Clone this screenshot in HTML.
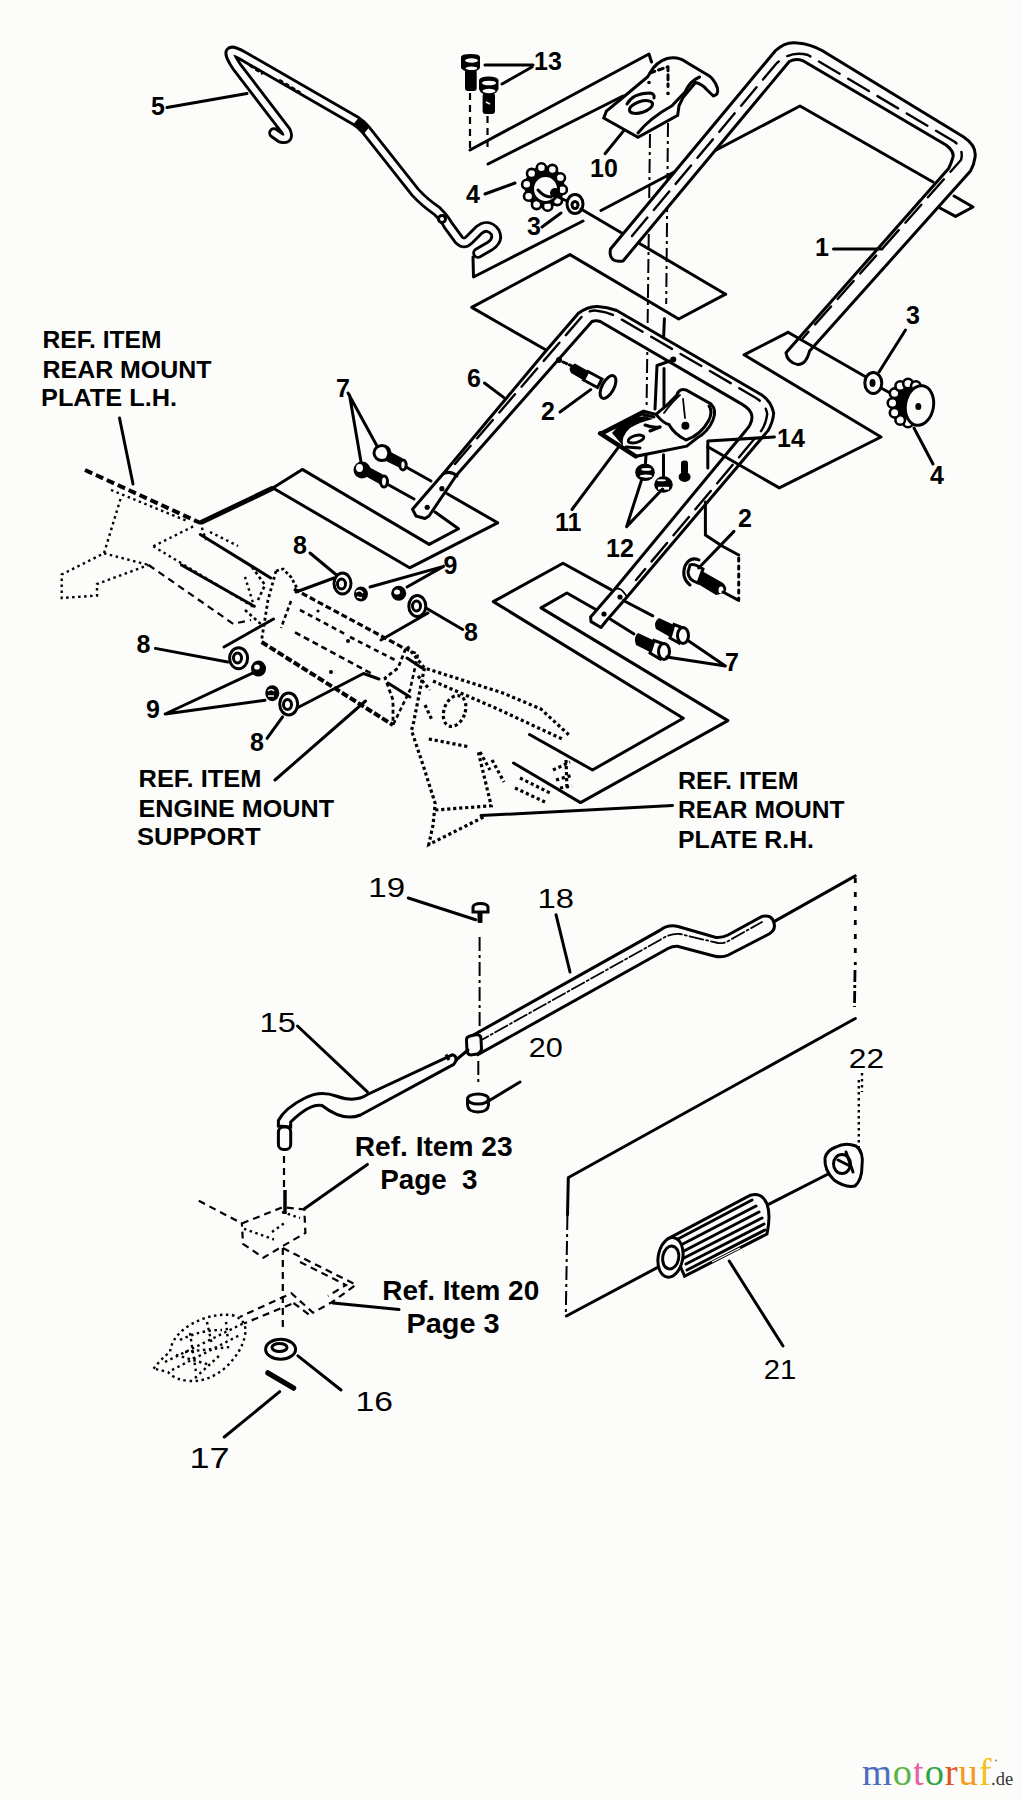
<!DOCTYPE html>
<html><head><meta charset="utf-8"><title>Parts diagram</title>
<style>
html,body{margin:0;padding:0;background:#fcfdfb;}
body{width:1022px;height:1800px;overflow:hidden;}
svg{display:block;}
.l{fill:none;stroke:#000;stroke-width:3;stroke-linecap:round;stroke-linejoin:round;}
.t{fill:none;stroke:#000;stroke-width:1.8;stroke-linecap:round;stroke-linejoin:round;}
.d{fill:none;stroke:#000;stroke-width:2.2;stroke-dasharray:7 5;stroke-linecap:butt;}
.dd{fill:none;stroke:#000;stroke-width:2.4;stroke-dasharray:2.5 3.5;stroke-linecap:butt;}
.dc{fill:none;stroke:#000;stroke-width:2;stroke-dasharray:14 4 3 4;}
.hl{fill:none;stroke:#000;stroke-width:2.4;stroke-dasharray:24 10;stroke-linecap:round;}
.w{fill:#fcfdfb;stroke:#000;stroke-width:3;}
.b{fill:#000;}
.lb{font-family:"Liberation Sans",sans-serif;font-weight:bold;font-size:25px;fill:#000;}
.lr{font-family:"Liberation Sans",sans-serif;font-weight:normal;font-size:27px;fill:#000;}
.tx{font-family:"Liberation Sans",sans-serif;font-weight:bold;font-size:24px;fill:#000;}
</style></head>
<body>
<svg width="1022" height="1800" viewBox="0 0 1022 1800">
<rect width="1022" height="1800" fill="#fcfdfb"/>
<!-- ===== item 5 rod ===== -->
<path d="M 274,133 L 281,138 Q 290,140 286,131 L 237,67 Q 220,42 245,57 L 356,121 Q 362,125 366,130 L 415,192 Q 424,202 437,211 Q 445,219 448,225 L 459,240 Q 464,245 469,240 L 479,230 Q 488,223 495,232 Q 499,240 490,246 L 478,253" fill="none" stroke="#000" stroke-width="11.5" stroke-linejoin="round" stroke-linecap="round"/>
<path d="M 274,133 L 281,138 Q 290,140 286,131 L 237,67 Q 220,42 245,57 L 356,121 Q 362,125 366,130 L 415,192 Q 424,202 437,211 Q 445,219 448,225 L 459,240 Q 464,245 469,240 L 479,230 Q 488,223 495,232 Q 499,240 490,246 L 478,253" fill="none" stroke="#fcfdfb" stroke-width="5.8" stroke-linejoin="round" stroke-linecap="round"/>
<path d="M 356,121 L 367,130" stroke="#000" stroke-width="9" />
<circle cx="442" cy="219" r="3.5" class="w"/>
<path d="M 250,66 L 262,74 M 280,80 L 300,92" class="t" stroke-dasharray="3 4"/>
<text class="lb" x="151" y="115">5</text>
<path d="M 167,107.5 L 247,93.5" class="l"/>
<!-- ===== bolts 13 ===== -->
<g>
<rect x="465" y="69" width="11.7" height="22" rx="3" class="b"/>
<path d="M 461,57 Q 461,54 470.5,54 Q 480,54 480,57 L 480,68 Q 478,71.5 470.5,71.5 Q 463,71.5 461,68 Z" class="b"/>
<ellipse cx="471.5" cy="60.5" rx="6.5" ry="2.2" fill="#fcfdfb"/>
<ellipse cx="471.5" cy="68.3" rx="5.8" ry="1.8" fill="#fcfdfb"/>
<rect x="482.6" y="93" width="12.4" height="21" rx="3" class="b"/>
<path d="M 479,80 Q 480,76.5 488.5,76.5 Q 497.5,76.5 498.5,80 L 498.5,89 Q 496,95 488.5,95 Q 481,95 479,89 Z" class="b"/>
<ellipse cx="489" cy="83" rx="7" ry="2.3" fill="#fcfdfb"/>
<ellipse cx="489" cy="91" rx="6.5" ry="2.2" fill="#fcfdfb"/>
<path d="M 486,102 L 490,104" stroke="#fcfdfb" stroke-width="1.5"/>
</g>
<text class="lb" x="534" y="70">13</text>
<path d="M 485,65 L 533,65 M 502,84 L 532,67" class="l"/>
<path d="M 470,93 L 470,150 M 487.5,116 L 487.5,151" class="d"/>
<!-- plate lines top -->
<path d="M 470,150 L 649,54 L 651.5,62" class="l"/>
<path d="M 488,164 L 623,96" class="l"/>
<!-- ===== bracket 10 ===== -->
<path d="M 603.7,118 L 638,137.3 L 677.7,115.3 L 679,105.8 L 683,97.5 L 695.5,82.5 Q 702,84 706.4,89.3 L 713.3,96 Q 719,95 717.4,88 Q 714,78 706.4,74.2 L 686,62 Q 678,56 667,58.5 Q 656,62 650,73 L 647.5,77 L 622.9,97.5 L 606.4,111.2 Z" class="w"/>
<path d="M 638,133 Q 650,118 672,105.8 L 685,92 Q 690,81 699.6,77" class="l"/>
<path d="M 650,73 L 668,66.7 L 668,86.6" class="l" stroke-dasharray="5 4"/>
<circle cx="649" cy="82.5" r="1.8" class="b"/>
<circle cx="668" cy="93.4" r="1.8" class="b"/>
<ellipse cx="641" cy="107" rx="12" ry="5.5" transform="rotate(-18 641 107)" class="l"/>
<path d="M 627,104 Q 633,93 650,93 Q 655,94 654,98" class="l"/>
<text class="lb" x="590" y="177">10</text>
<path d="M 605,153.7 L 624,130.4" class="l"/>
<!-- vertical axis lines -->
<path d="M 650,134 L 646.6,406" class="dc"/>
<path d="M 646,455 L 645.5,463" class="l" stroke-width="2.4"/>
<path d="M 668,123 L 666.2,304" class="dc"/>
<path d="M 664.4,318.7 L 663.5,340 M 664,368.4 L 664,406" class="l" stroke-width="2.6"/>
<!-- ===== knob 4 + washer 3 (top) ===== -->
<g>
<ellipse cx="544.5" cy="187" rx="20" ry="21.5" class="b"/>
<g fill="#fcfdfb" stroke="#000" stroke-width="2.6"><ellipse cx="541.4" cy="167.8" rx="4.6" ry="4.6"/><ellipse cx="552.4" cy="169.5" rx="4.6" ry="4.6"/><ellipse cx="560.4" cy="177.8" rx="4.6" ry="4.6"/><ellipse cx="562.3" cy="189.7" rx="4.6" ry="4.6"/><ellipse cx="557.4" cy="200.5" rx="4.6" ry="4.6"/><ellipse cx="547.6" cy="206.2" rx="4.6" ry="4.6"/><ellipse cx="536.6" cy="204.5" rx="4.6" ry="4.6"/><ellipse cx="528.6" cy="196.2" rx="4.6" ry="4.6"/><ellipse cx="526.7" cy="184.3" rx="4.6" ry="4.6"/><ellipse cx="531.6" cy="173.5" rx="4.6" ry="4.6"/></g>
<ellipse cx="545.5" cy="189" rx="13" ry="13.5" class="w" stroke-width="2.6"/>
<circle cx="555" cy="193" r="5" class="b"/>
<path d="M 538,190 Q 544,197 551,197" class="l" stroke-width="3"/>
</g>
<ellipse cx="575" cy="204" rx="8" ry="9.5" class="w" stroke-width="3.5"/>
<ellipse cx="575" cy="205" rx="3" ry="3.5" class="l"/>
<path d="M 558,197 L 567,201" class="l"/>
<path d="M 581,209 L 725.6,294.2" class="l"/>
<text class="lb" x="466" y="203">4</text>
<path d="M 485,194 L 515,183" class="l"/>
<text class="lb" x="527" y="235">3</text>
<path d="M 542,227 L 561,213" class="l"/>
<!-- plate line from handle-1 region -->
<path d="M 601,210.5 L 800,106 L 933,182" class="l"/>
<path d="M 954,196 L 973,207 L 955.5,216.4 L 940,208" class="l"/>
<!-- lower plate lines under item 5 -->
<path d="M 473,257 L 473.5,277 L 583,221" class="l"/>
<path d="M 725.6,294.2 L 678.7,319 L 570,254.6 L 471.7,307.4 L 546,350" class="l"/>
<!-- ===== handle 1 ===== -->
<path d="M 623,261 Q 608,263 610.5,249 L 775.6,50.5 Q 786,41 797.5,43 Q 810,44 822,50.5 L 963.7,137 Q 977,146 975,157.5 Q 974,165 970.5,171 L 809.6,351 Q 806,365 797.8,364.6 Q 787,362 786,352.8 L 948.6,168.5 Q 951,164 952.7,158 Q 955,152 946,145 L 803,60.8 Q 796,58 789.3,61.5 L 623,261 Z" class="w" stroke-linejoin="round"/>
<path d="M 632,236 L 776,64 Q 790,50 808,55 L 955,142 Q 964,150 961,160 L 803,338" class="hl"/>
<!-- ===== handle 6 ===== -->
<path d="M 429,516 L 425,518.5 L 416,516 L 412.5,509.3 L 443,474 L 545,352 L 578.4,313.3 Q 588,306 597.5,306.4 Q 607,307 616.7,310.5 L 761.4,394.8 Q 771,401 773.7,413 Q 773,422 768.2,430.4 L 627,597 L 607,620 L 601,627.5 L 591,621.6 L 590.6,617 L 614,590 L 745.2,431.3 Q 752,424 752,417 Q 752,410 742.2,404.4 L 600.3,321.5 Q 596,320 592,321.5 L 456.6,475 L 429,516 Z" class="w" stroke-linejoin="round"/>
<path d="M 455,464 L 582.5,315.8 Q 590,309 598.3,311 Q 608,312 617.7,317.2 L 755.6,397.7 Q 766,404 767.2,414.2 Q 766,424 761.3,430.7 L 636,580" class="hl"/>
<path d="M 443,474 Q 450,470 457,476" class="l"/>
<circle cx="427.2" cy="507.3" r="2.6" class="b"/><circle cx="441.9" cy="488.7" r="2.6" class="b"/>
<path d="M 614,590 Q 620,585 627,597" class="t"/>
<!-- ===== LH label ===== -->
<text class="tx" x="42.5" y="348" textLength="119" lengthAdjust="spacingAndGlyphs">REF. ITEM</text>
<text class="tx" x="42.5" y="378" textLength="169" lengthAdjust="spacingAndGlyphs">REAR MOUNT</text>
<text class="tx" x="41" y="406" textLength="136" lengthAdjust="spacingAndGlyphs">PLATE L.H.</text>
<path d="M 119.5,418 L 133,484" class="l"/>
<!-- LH dashed mount plate -->
<g>
<path d="M 85,470 L 200,522.8" fill="none" stroke="#000" stroke-width="4" stroke-dasharray="8 4"/>
<path d="M 111,490 L 186,520.5" class="dd"/>
<path d="M 120.5,499 L 104,553.3 L 61.7,574.5 L 61.7,598 L 97,595.6 L 97,584 L 148.6,565" class="dd"/>
<path d="M 104,553.3 L 148.6,565" class="dd"/>
<path d="M 153.3,546.3 L 195.6,525.2 M 153.3,546.3 L 254.3,607.4" class="dd"/>
<path d="M 148.6,565 L 233.2,623.8 L 251,620" class="d"/>
<path d="M 245,576.8 L 254.3,607" class="dd"/>
<path d="M 200,522 L 206,540 M 210,532 L 238,546" class="dd"/>
</g>
<!-- LH solid plate -->
<path d="M 202,522 L 272,488.5" stroke="#000" stroke-width="5" stroke-linecap="round"/>
<path d="M 272,488.5 L 302.3,469.4 L 429.2,544.4 L 458.5,528.7 L 435,512" class="l"/>
<path d="M 273,488 L 409.6,567.8 L 497.6,522.8 L 446.8,493.5" class="l"/>
<path d="M 200.3,534.5 L 270.8,578" class="l"/>
<path d="M 181.5,565 L 254.3,606.2" class="l"/>
<!-- bolts 7 left -->
<g>
<path d="M 385,449 L 402,458 Q 407,462 404,470 L 386,461 Z" class="b"/>
<ellipse cx="403" cy="465" rx="3.2" ry="5" class="w" stroke-width="2.5"/>
<ellipse cx="382" cy="453" rx="8" ry="7.5" class="w" stroke-width="3.5"/>
<path d="M 386,447 Q 391,452 387,459" class="l" stroke-width="3"/>
<path d="M 406,467 L 431,481" class="l"/>
<path d="M 365,465 L 382,474 Q 388,478 385,487 L 367,477 Z" class="b"/>
<ellipse cx="384" cy="481.5" rx="3.5" ry="5.5" class="w" stroke-width="2.5"/>
<ellipse cx="362" cy="470" rx="8.5" ry="8.5" class="b"/>
<ellipse cx="359.5" cy="468" rx="3.5" ry="4" fill="#fcfdfb"/>
<path d="M 387,484 L 414,499" class="l"/>
</g>
<text class="lb" x="336" y="397">7</text>
<path d="M 348,393 L 377,446 M 349.5,395 L 361,462" class="l"/>
<text class="lb" x="467" y="387">6</text>
<path d="M 484.5,383 L 503.6,397.4" class="l"/>
<!-- item 2 left bolt -->
<g>
<circle cx="559" cy="360" r="3" class="b"/>
<path d="M 563,362 L 572,366" class="l" stroke-dasharray="4 3"/>
<path d="M 575,363.5 L 589,371.5 L 584,380.5 L 571,373 Q 567,367 575,363.5 Z" class="b"/>
<path d="M 588,371.5 L 602,379 L 597.5,387.5 L 583.5,380 Z" class="w"/>
<ellipse cx="608" cy="387" rx="6" ry="12.5" transform="rotate(28 608 387)" class="w"/>
</g>
<text class="lb" x="541" y="420">2</text>
<path d="M 560,412 L 590.7,389.6" class="l"/>
<circle cx="673.3" cy="359.6" r="3" class="b"/>
<path d="M 673,360 L 657,365.5 L 655,409" class="l" stroke-width="2.6"/>
<!-- item 11 bracket -->
<g>
<path d="M 600.2,433.4 L 643.4,411.2 L 656,414.4 Q 668,405 677,395 Q 679,388 686,390 L 711,404 Q 717,410 713,420 Q 708,432 697,438 L 686.7,446.2 L 635.8,456.3 Z" class="w"/>
<path d="M 600.2,433.4 L 635.8,456.3" stroke="#000" stroke-width="4.5" stroke-linecap="round"/>
<path d="M 604,433 L 642,414 L 654,417" class="l" stroke-width="4"/>
<path d="M 612,433 Q 624,418 645,416 L 653,419 Q 640,422 630,428 Q 621,436 623,446 Z" class="b"/>
<path d="M 645,425 Q 652,428 660,427" class="l" stroke-width="3"/>
<path d="M 650,431 L 660,427 M 626,447 L 640,448" class="l"/>
<ellipse cx="636" cy="439" rx="8" ry="3.5" transform="rotate(-15 636 439)" class="w" stroke-width="2.5"/>
<path d="M 656,414.4 Q 664,424 669,424.5 Q 674,434 686,440 Q 701,435 709,420 Q 713,411 709,406" class="l"/>
<path d="M 664,413 Q 672,402 680,395" class="t"/>
<circle cx="685.4" cy="425.8" r="4" class="b"/>
<path d="M 683,399 L 685,418" class="t"/>
</g>
<text class="lb" x="555" y="531">11</text>
<path d="M 572,509.5 L 618,447.8" class="l"/>
<!-- nuts 12 + bolt 14 -->
<g>
<ellipse cx="645" cy="472.3" rx="9.8" ry="8.8" class="b"/>
<ellipse cx="646.3" cy="469.4" rx="5" ry="1.3" fill="#fcfdfb"/>
<ellipse cx="646" cy="476.2" rx="6.3" ry="1.6" fill="#fcfdfb"/>
<ellipse cx="663.5" cy="484.5" rx="9.3" ry="8.3" class="b"/>
<ellipse cx="661.5" cy="480.3" rx="4.5" ry="1" fill="#fcfdfb"/>
<rect x="658" y="486.8" width="11" height="2.8" fill="#fcfdfb"/>
<path d="M 663.5,454.7 L 663.5,476" class="l" stroke-width="2.6"/>
<rect x="681" y="460.5" width="7" height="14" rx="3" class="b"/>
<ellipse cx="684.6" cy="477" rx="6" ry="5" class="b"/>
</g>
<text class="lb" x="606" y="557">12</text>
<path d="M 626.6,526.6 L 642,478.6 M 626.6,526.6 L 662.6,489" class="l"/>
<text class="lb" x="777" y="447">14</text>
<path d="M 774.4,437 L 707.8,441 L 707.8,468" class="l"/>
<!-- diamond under handle1 right end -->
<path d="M 788,332.3 L 744,354.8 L 881,437 L 779.3,487.9 L 707.8,446.8" class="l"/>
<path d="M 788,332.3 L 866,377" class="l"/>
<!-- washer 3 + knob 4 right -->
<ellipse cx="873.3" cy="383" rx="8.5" ry="10.5" class="w" stroke-width="3.5"/>
<ellipse cx="872.5" cy="383" rx="3" ry="4" class="b"/>
<path d="M 881,388 L 892,394" class="l"/>
<g>
<ellipse cx="908" cy="403" rx="18" ry="22" class="b"/>
<g fill="#fcfdfb" stroke="#000" stroke-width="2.6"><circle cx="908.0" cy="422.5" r="4.8"/><circle cx="900.2" cy="419.9" r="4.8"/><circle cx="894.6" cy="412.8" r="4.8"/><circle cx="892.5" cy="403.0" r="4.8"/><circle cx="894.6" cy="393.2" r="4.8"/><circle cx="900.2" cy="386.1" r="4.8"/><circle cx="908.0" cy="383.5" r="4.8"/><circle cx="915.8" cy="386.1" r="4.8"/><circle cx="921.4" cy="393.2" r="4.8"/><circle cx="923.5" cy="403.0" r="4.8"/><circle cx="921.4" cy="412.8" r="4.8"/><circle cx="915.8" cy="419.9" r="4.8"/></g>
<ellipse cx="919.5" cy="405.5" rx="14" ry="20" transform="rotate(10 919.5 405.5)" class="w" stroke-width="3"/>
<ellipse cx="918.3" cy="406.5" rx="3" ry="3.5" class="b"/>
</g>
<text class="lb" x="906" y="324">3</text>
<path d="M 905.5,330 L 879,372" class="l"/>
<text class="lb" x="930" y="484">4</text>
<path d="M 914,428 L 933,464" class="l"/>
<text class="lb" x="815" y="256">1</text>
<path d="M 833.5,249 L 882,249" class="l"/>
<!-- RH solid plate -->
<path d="M 611,589.6 L 563,563.3 L 493.3,601.6 L 683.3,718.2 L 592.5,770 L 529.5,734.5" class="l"/>
<path d="M 595.8,609.5 L 566.9,593 L 541,607.9 L 727.9,720.6 L 580.5,802.6 L 513.5,763" class="l"/>
<!-- bolts 7 right -->
<g>
<path d="M 659,618 L 674,625 L 670,637 L 656,629 Q 653,622 659,618 Z" class="b"/>
<path d="M 674,624.5 L 683,628 L 679,643 L 670,638 Z" class="w"/>
<ellipse cx="683" cy="635.5" rx="5.5" ry="8" class="w"/>
<path d="M 638,633 L 654,640.5 L 650,652 L 636,645 Q 633,637 638,633 Z" class="b"/>
<path d="M 654,640.5 L 664,644 L 660,659 L 650,653 Z" class="w"/>
<ellipse cx="664" cy="651.5" rx="5.5" ry="8" class="w"/>
<path d="M 652.8,615.8 L 623.4,600.5 M 634,634 L 610.5,619.3" class="l"/>
<circle cx="620" cy="597" r="2.6" class="b"/><circle cx="604" cy="614" r="2.6" class="b"/>
</g>
<text class="lb" x="725" y="671">7</text>
<path d="M 725.4,666 L 688.7,641 M 725.4,666 L 666.7,657" class="l"/>
<!-- bolt 2 right -->
<g>
<path d="M 699,560 Q 690,556 685,566 Q 681,578 690,585" class="l" stroke-width="3.5"/>
<path d="M 702,571 L 723,583 Q 728,587 725,593 L 716,595 L 698,584 Z" class="b"/>
<path d="M 690,565 Q 694,563 703,569 L 698,583 Q 688,580 688,572 Z" class="w"/>
<ellipse cx="721" cy="590" rx="2.5" ry="3.5" fill="#fcfdfb"/>
<path d="M 723,592 L 738.7,600.3" class="l"/>
</g>
<text class="lb" x="738" y="527">2</text>
<path d="M 734,531.4 L 698.7,568" class="l"/>
<path d="M 705.4,502 L 705.4,535 L 722,546 L 738.7,555" class="l"/>
<path d="M 738.7,558 L 738.7,600" class="l" stroke-dasharray="3 5"/>
<!-- RH label -->
<text class="tx" x="678" y="789" textLength="120.5" lengthAdjust="spacingAndGlyphs">REF. ITEM</text>
<text class="tx" x="678" y="818" textLength="166.5" lengthAdjust="spacingAndGlyphs">REAR MOUNT</text>
<text class="tx" x="678" y="847.5" textLength="136" lengthAdjust="spacingAndGlyphs">PLATE R.H.</text>
<path d="M 672.5,805.4 L 481,815.6" class="l"/>
<!-- ===== engine mount support (dashed) ===== -->
<g fill="none" stroke="#000">
<path d="M 276,571 L 283,569 L 291,577 L 298,590" stroke-width="2.8" stroke-dasharray="3 2.5"/>
<path d="M 294,589 L 405.5,649" stroke-width="3.2" stroke-dasharray="6 3"/>
<path d="M 276,571 L 268,600 L 261.6,640" stroke-width="2.8" stroke-dasharray="3 3"/>
<path d="M 261.6,642 L 393,725" stroke-width="4" stroke-dasharray="7 2.5"/>
<path d="M 291,601 L 281,628" stroke-width="2.6" stroke-dasharray="4 3"/>
<path d="M 295,632.4 L 371.3,673.5" stroke-width="2.6" stroke-dasharray="6 4"/>
<path d="M 300,610 L 345,634 M 350,637 L 395,660" stroke-width="2.6" stroke-dasharray="5 4"/>
<path d="M 405.5,649 L 398,668 L 385,678 L 393,700 L 393,725" stroke-width="2.8" stroke-dasharray="4 3"/>
<path d="M 405.5,649 L 418,654 L 410,690 L 393,725" stroke-width="2.6" stroke-dasharray="4 3"/>
<path d="M 252,567 L 265,585 L 258,600 M 245,610 L 262,625" stroke-width="2.6" stroke-dasharray="3 3"/>
</g>
<path d="M 388,683 L 410,697 M 407,658 L 422,668" class="l" stroke-width="2.2"/>
<circle cx="348" cy="641" r="2" class="b"/><circle cx="331" cy="672" r="2" class="b"/><circle cx="318" cy="611" r="1.6" class="b"/>
<!-- washers 8/9 upper -->
<path d="M 296,592 L 334,578" class="l"/>
<ellipse cx="342.5" cy="583.5" rx="8.5" ry="10.5" class="w" stroke-width="2.6"/>
<ellipse cx="341.5" cy="584" rx="4" ry="5" class="l" stroke-width="2.4"/>
<ellipse cx="361" cy="594" rx="7" ry="7.5" class="b"/>
<path d="M 356,592 Q 360,589 363,593 M 357,597 L 362,598" stroke="#fcfdfb" stroke-width="1.6" fill="none"/>
<ellipse cx="398.7" cy="593.3" rx="7.5" ry="7.5" class="b"/>
<ellipse cx="397" cy="592" rx="3" ry="2.6" fill="#fcfdfb"/>
<ellipse cx="417.3" cy="606" rx="8.5" ry="10.5" class="w" stroke-width="2.6"/>
<ellipse cx="416.5" cy="606" rx="4" ry="5" class="l" stroke-width="2.4"/>
<path d="M 381,640 L 428,613" class="l"/>
<text class="lb" x="293" y="554">8</text>
<path d="M 310,553 L 336.5,575" class="l"/>
<text class="lb" x="443.5" y="573.5">9</text>
<path d="M 443.6,566.4 L 370,587 M 443.6,566.4 L 407,587" class="l"/>
<text class="lb" x="464" y="641">8</text>
<path d="M 462.7,629.5 L 426,608" class="l"/>
<!-- washers 8/9 lower -->
<path d="M 224,647 L 273.5,619" class="l"/>
<ellipse cx="238.6" cy="658.2" rx="9" ry="10.5" class="w" stroke-width="2.6"/>
<ellipse cx="237.5" cy="658" rx="4" ry="5" class="l" stroke-width="2.4"/>
<ellipse cx="258.5" cy="668.6" rx="7.5" ry="8" class="b"/>
<ellipse cx="257" cy="667" rx="2.8" ry="2.6" fill="#fcfdfb"/>
<ellipse cx="272.3" cy="693.2" rx="7" ry="8" class="b"/>
<path d="M 268,691 Q 271,688 274,691 M 268,696 L 274,696" stroke="#fcfdfb" stroke-width="1.6" fill="none"/>
<ellipse cx="288.7" cy="704" rx="9" ry="11" class="w" stroke-width="2.6"/>
<ellipse cx="287.5" cy="704.5" rx="4" ry="5" class="l" stroke-width="2.4"/>
<path d="M 297,708 L 363.5,673.5 L 379,679" class="l"/>
<text class="lb" x="136.5" y="653">8</text>
<path d="M 155.4,648.4 L 227.8,662" class="l"/>
<text class="lb" x="146" y="718">9</text>
<path d="M 165.2,714 L 255.2,671.9 M 165.2,714 L 265,700.2" class="l"/>
<text class="lb" x="250" y="751">8</text>
<path d="M 267,738.4 L 282.6,716.9" class="l"/>
<!-- engine label -->
<text class="tx" x="138.5" y="787" textLength="123" lengthAdjust="spacingAndGlyphs">REF. ITEM</text>
<text class="tx" x="138.5" y="817" textLength="195.5" lengthAdjust="spacingAndGlyphs">ENGINE MOUNT</text>
<text class="tx" x="137" y="845" textLength="123.5" lengthAdjust="spacingAndGlyphs">SUPPORT</text>
<path d="M 275,780 L 365.5,701" class="l"/>
<!-- RH dashed mount plate -->
<g fill="none" stroke="#000" stroke-width="3.2" stroke-dasharray="3.2 2.8">
<path d="M 407.2,646.5 L 424.4,668 L 502,692.7 L 540.7,708.9 L 568.7,734.7"/>
<path d="M 424.4,668 L 413.7,721.8 L 411.5,730.4 L 424.4,769.2 L 435.2,803.6 L 433,825.1 L 428.8,844.5 L 484.7,816.5"/>
<path d="M 435.2,810 L 491.2,805.8 L 478.3,752 M 428.8,739 L 470,747"/>
<path d="M 433,681 L 497.6,709 L 562.2,739"/>
<ellipse cx="454.6" cy="711" rx="10.5" ry="16" transform="rotate(20 454.6 711)"/>
<path d="M 480,752 L 490,770 M 492,760 L 504,782 M 515,788 L 545,802 M 520,778 L 550,793"/>
<path d="M 553,770 L 570,762 M 556,780 L 573,775 M 560,788 L 572,786 M 566,760 L 567,790"/>
<path d="M 418,676 L 430,690 M 425,705 L 432,720"/>
</g>
<!-- ===== bottom: rod 18 ===== -->
<path d="M 468,1038 L 659.8,930.4 Q 668,924 678,926.5 L 716,937.5 Q 722,938 728,935 L 762,916.4 Q 772,914 774,923 Q 776,930 769,934 L 728.4,955 Q 722,958 714,956 L 677.4,946.3 Q 673,946 668,948.5 L 478,1054.6 Z" class="w"/>
<path d="M 476,1043 L 660,940 Q 670,933 680,934 L 718,943 Q 724,944 730,940 L 762,922" class="t" stroke-width="2" stroke-dasharray="14 3 2 3"/>
<path d="M 466.5,1041 Q 466,1037 470,1036 L 477,1034.5 Q 481,1035 481,1039 L 481.5,1049 Q 481,1053 477,1054 L 471,1055 Q 467.5,1054.5 467,1051 Z" class="w"/>
<path d="M 774,921.6 L 855.3,875.9" class="l"/>
<path d="M 855.3,878 L 855.3,965" fill="none" stroke="#000" stroke-width="2.8" stroke-dasharray="5 9"/>
<path d="M 855,970 L 854.5,1007" fill="none" stroke="#000" stroke-width="2.8" stroke-dasharray="12 3 3 3"/>
<path d="M 855.3,1018.5 L 568.5,1177.5" class="l"/>
<path d="M 568.3,1178 L 567.5,1215" class="l"/>
<path d="M 567.4,1216 L 565.8,1316" class="dc" stroke-width="2.6" stroke-dasharray="14 4 3 4"/>
<path d="M 566.4,1316 L 661,1265.6" class="l"/>
<text class="lr" x="537.6" y="907.8" textLength="36.5" lengthAdjust="spacingAndGlyphs">18</text>
<path d="M 556,914.7 L 570,972" class="l"/>
<!-- screw 19 -->
<rect x="477.5" y="910" width="5" height="13" rx="1.5" class="b"/>
<path d="M 473,912 L 473,907 Q 474,903.5 480.5,903.5 Q 487,903.5 488,907 L 488,912 Z" class="w"/>
<text class="lr" x="368.3" y="897" textLength="36.7" lengthAdjust="spacingAndGlyphs">19</text>
<path d="M 408.3,898 L 475.7,919.8" class="l"/>
<path d="M 479.6,937 L 479.6,1033" class="dc" stroke-dasharray="18 5 2 5"/>
<path d="M 478.3,1061 L 478.3,1085" class="dc" stroke-dasharray="12 5 2 5"/>
<!-- washer 20 -->
<path d="M 467.5,1099 L 467.5,1105 Q 468,1112 478,1112 Q 488,1112 488.5,1105 L 488.5,1099" class="w"/>
<ellipse cx="478" cy="1099" rx="10.5" ry="5" class="w"/>
<text class="lr" x="528.7" y="1057" textLength="34" lengthAdjust="spacingAndGlyphs">20</text>
<path d="M 487,1102 L 520,1082" class="l"/>
<!-- rod 15 -->
<path d="M 453.7,1064.4 L 360.5,1115 Q 343,1122 322,1105.5 Q 310,1103 290.7,1122 L 290.7,1127 L 278.4,1126 L 278.4,1120.5 Q 285,1108 305,1098 Q 320,1090 336,1096 Q 355,1103 367.4,1094.5 L 452.3,1054.8 Q 457,1056 456,1061 Z" class="w"/>
<path d="M 446,1054.5 L 449,1060" stroke="#000" stroke-width="3"/>
<path d="M 456,1060 L 468,1050" class="l"/>
<rect x="278.4" y="1127" width="12.3" height="22.5" rx="5" class="w"/>
<text class="lr" x="259.6" y="1031.5" textLength="36.3" lengthAdjust="spacingAndGlyphs">15</text>
<path d="M 297.5,1026 L 367.4,1091.8" class="l"/>
<path d="M 284,1156 L 284,1188" class="d" stroke-width="2.6" stroke-dasharray="10 5"/>
<text class="lb" x="354.7" y="1156.4" style="font-size:28px" textLength="157.9" lengthAdjust="spacingAndGlyphs">Ref. Item 23</text>
<text class="lb" x="380.2" y="1188.7" style="font-size:28px" textLength="97.3" lengthAdjust="spacingAndGlyphs">Page&#160;&#160;3</text>
<path d="M 367.4,1164.4 L 304.4,1208.8" class="l"/>
<!-- ref 23 dashed box -->
<path d="M 241.9,1223.4 L 282.8,1207.2 L 304.3,1209.4 L 305.4,1233 L 282.8,1246 L 263.4,1257.8 L 243,1243.8 Z" class="d" stroke-width="2.6" stroke-dasharray="6 4"/>
<path d="M 198.8,1200.8 L 241.9,1223.4" class="d" stroke-width="2.6" stroke-dasharray="8 6"/>
<path d="M 244,1228.8 L 274,1239.5 M 282,1212 L 300,1218 M 272,1232 L 286,1222" class="dd"/>
<path d="M 285,1190 L 285,1214" stroke="#000" stroke-width="3.5"/>
<path d="M 282.8,1248 L 282.8,1332" class="d" stroke-width="2.6" stroke-dasharray="9 6"/>
<!-- ref 20 dashed -->
<path d="M 282.8,1248 L 295.7,1254.6 L 356,1284.7 L 332.3,1302 L 313,1312.7 L 291.4,1293.3 L 239.7,1317" class="d" stroke-width="2.6" stroke-dasharray="6 4"/>
<path d="M 300,1262 L 346,1285 L 328,1296 M 293.5,1303 L 312,1317 M 291.4,1304 L 244,1323.5" class="d" stroke-width="2.4" stroke-dasharray="5 4"/>
<path d="M 333,1303 L 399,1309.6" class="l"/>
<text class="lb" x="382.2" y="1300" style="font-size:28px" textLength="157" lengthAdjust="spacingAndGlyphs">Ref. Item 20</text>
<text class="lb" x="406.5" y="1332.5" style="font-size:28px" textLength="93.2" lengthAdjust="spacingAndGlyphs">Page 3</text>
<!-- engine lump -->
<g class="dd" stroke-width="2.6" stroke-dasharray="2.5 2.5">
<path d="M 153.6,1368.7 Q 160,1360 170,1352 Q 172,1336 190,1325 Q 210,1313 232,1315 Q 248,1320 245,1335 Q 242,1352 225,1368 Q 208,1382 190,1381 Q 175,1380 168,1372 Q 160,1370 153.6,1368.7"/>
<path d="M 165,1362 L 244,1323 M 172,1370 L 240,1335 M 180,1340 Q 200,1330 222,1330 M 185,1352 L 230,1347 M 195,1378 L 220,1355 M 207,1322 L 212,1345 M 226,1322 L 228,1340 M 190,1333 L 196,1372 M 176,1355 L 210,1365"/>
</g>
<!-- washer 16, pin 17 -->
<ellipse cx="280.6" cy="1349.3" rx="15" ry="10" class="w" stroke-width="3.5"/>
<ellipse cx="279.5" cy="1347.5" rx="7.5" ry="4" class="l" stroke-width="2.6"/>
<path d="M 268,1373 L 293.5,1388" stroke="#000" stroke-width="5.5" stroke-linecap="round"/>
<path d="M 297.9,1355.8 L 341,1390" class="l"/>
<text class="lr" x="355.6" y="1411" textLength="37.4" lengthAdjust="spacingAndGlyphs">16</text>
<path d="M 224.3,1437 L 279.7,1391.7" class="l"/>
<text class="lr" x="189.6" y="1468.3" style="font-size:29px" textLength="40" lengthAdjust="spacingAndGlyphs">17</text>
<!-- grip 21 -->
<path d="M 668.2,1238.6 L 750.4,1195.2 Q 762,1192 767,1204 Q 771,1215 767,1234 L 684.6,1276.2 Z" class="w" stroke-width="4"/>
<g fill="none" stroke="#000" stroke-width="3" stroke-linecap="round">
<path d="M 676,1240 L 752,1200 M 679,1246 L 756,1206 M 682,1252 L 759,1212 M 684,1258 L 762,1218 M 686,1264 L 764,1224 M 687,1270 L 765,1230"/>
</g>
<g stroke="#fcfdfb" stroke-width="1.2" fill="none"><path d="M 700,1246 L 720,1236 M 705,1258 L 730,1245 M 712,1262 L 740,1248 M 725,1240 L 745,1230"/></g>
<ellipse cx="670.5" cy="1257.4" rx="12.3" ry="20" transform="rotate(10 670.5 1257.4)" class="w" stroke-width="4"/>
<ellipse cx="670.7" cy="1257.5" rx="8" ry="11.5" transform="rotate(10 670.7 1257.5)" class="l" stroke-width="2.8"/>
<path d="M 768,1204.6 L 835,1170.5" class="l"/>
<path d="M 836,1147 Q 845,1142 856,1146 Q 864,1152 862,1166 Q 862,1180 855,1186 Q 845,1188 834,1180 Q 824,1170 825,1158 Q 827,1150 836,1147 Z" class="w" stroke-width="4"/>
<ellipse cx="842" cy="1164" rx="8.5" ry="9.5" class="l" stroke-width="3"/>
<path d="M 846,1152 L 853,1172 M 838,1160 L 850,1166" class="l" stroke-width="2.5"/>
<path d="M 858.8,1080 L 858.8,1148" class="dd" stroke-dasharray="2 6 10 6"/>
<text class="lr" x="848.8" y="1067.8" textLength="35.2" lengthAdjust="spacingAndGlyphs">22</text>
<path d="M 862,1073 L 862,1092" class="dd" stroke-dasharray="3 4"/>
<text class="lr" x="763.8" y="1379.4" textLength="32.5" lengthAdjust="spacingAndGlyphs">21</text>
<path d="M 729.2,1261 L 783,1346" class="l"/>
<!-- logo -->
<g font-family="'Liberation Serif',serif" font-size="38.5" style="letter-spacing:0.9px">
<text x="862" y="1785.2"><tspan fill="#4b6dbf">m</tspan><tspan fill="#5ab545">o</tspan><tspan fill="#e661a3">t</tspan><tspan fill="#2fa548">o</tspan><tspan fill="#e2531f">r</tspan><tspan fill="#f29b1c">u</tspan><tspan fill="#f4c21a">f</tspan></text>
</g>
<text x="991" y="1785" font-family="'Liberation Serif',serif" font-size="18.5" fill="#333">.de</text>
<circle cx="996" cy="1760.5" r="1" fill="#888"/>
</svg>
</body></html>
